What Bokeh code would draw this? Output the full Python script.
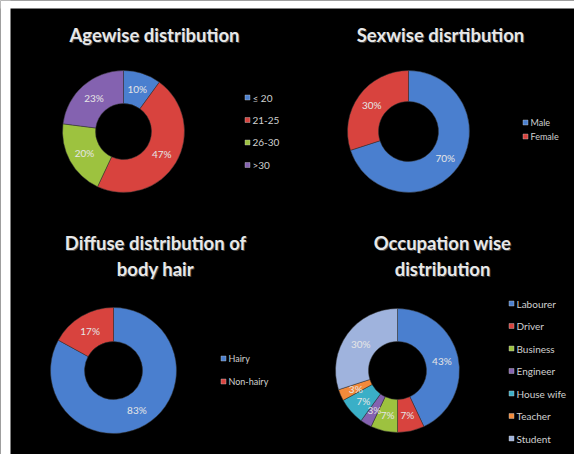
import math
from bokeh.plotting import figure
from bokeh.models import Range1d, BoxAnnotation
from bokeh.core.properties import value
from bokeh.embed import file_html
from bokeh.resources import INLINE

# ---------------- data ----------------
age_labels = ["\u2264 20", "21-25", "26-30", ">30"]
age_values = [10, 47, 20, 23]

sex_labels = ["Male", "Female"]
sex_values = [70, 30]

hair_labels = ["Hairy", "Non-hairy"]
hair_values = [83, 17]

occ_labels = ["Labourer", "Driver", "Business", "Engineer", "House wife", "Teacher", "Student"]
occ_values = [43, 7, 7, 3, 7, 3, 30]

# ---------------- style ----------------
BLUE = "#4A7FCF"
RED = "#D8433E"
GREEN = "#9DC23F"
PURPLE = "#8462B0"
AQUA = "#3AAFC7"
ORANGE = "#F28A3A"
PALE = "#9FB3DD"

W, H = 574, 454
TXT = "#E6E6E6"
FONT = "Lato"

p = figure(width=W, height=H, output_backend="svg", toolbar_location=None,
           x_range=Range1d(0, W), y_range=Range1d(0, H), min_border=0)
p.axis.visible = False
p.grid.visible = False
p.outline_line_color = None
p.background_fill_color = "black"
p.border_fill_color = "black"

# white frame strips (top and left) as in the source image
p.add_layout(BoxAnnotation(left=0, right=W, bottom=H - 8, top=H, fill_color="white",
                           fill_alpha=1, line_color=None))
p.add_layout(BoxAnnotation(left=0, right=10, bottom=0, top=H, fill_color="white",
                           fill_alpha=1, line_color=None))


def fx(x):
    return x


def fy(y):
    return H - y


def donut(cx, cy, r_in, r_out, labels, values, colors):
    total = float(sum(values))
    cum = 0.0
    starts, ends, mids = [], [], []
    for v in values:
        a0 = math.pi / 2 - 2 * math.pi * cum / total
        cum += v
        a1 = math.pi / 2 - 2 * math.pi * cum / total
        starts.append(a0)
        ends.append(a1)
        mids.append((a0 + a1) / 2)
    X, Y = fx(cx), fy(cy)
    p.annular_wedge(x=[X] * len(values), y=[Y] * len(values),
                    inner_radius=r_in, outer_radius=r_out,
                    start_angle=starts, end_angle=ends, direction="clock",
                    fill_color=colors, line_color="#333333", line_width=0.5)
    rm = (r_in + r_out) / 2
    lx = [X + rm * math.cos(m) for m in mids]
    ly = [Y + rm * math.sin(m) for m in mids]
    p.text(x=lx, y=ly, text=[f"{v}%" for v in values],
           text_font=value(FONT), text_font_size="10px",
           text_color=TXT, text_align="center", text_baseline="middle")


def legend(x, y0, dy, labels, colors, size="10px"):
    n = len(labels)
    xs = [fx(x)] * n
    ys = [fy(y0 + i * dy) for i in range(n)]
    p.rect(x=xs, y=ys, width=5, height=5, width_units="screen", height_units="screen",
           fill_color=colors, line_color="#cccccc", line_width=0.4)
    p.text(x=[fx(x) + 5] * n, y=ys, text=labels, text_font=value(FONT),
           text_font_size=size, text_color="#D0D0D0", text_baseline="middle")


def title(x, y, lines):
    for i, t in enumerate(lines):
        p.text(x=[fx(x) + 1], y=[fy(y + i * 26) - 1], text=[t], text_font=value(FONT),
               text_font_size="18.5px", text_font_style="bold", text_color="#444444",
               text_align="center", text_baseline="middle")
        p.text(x=[fx(x)], y=[fy(y + i * 26)], text=[t], text_font=value(FONT),
               text_font_size="18.5px", text_font_style="bold", text_color="#E8E8E8",
               text_align="center", text_baseline="middle")


# Chart 1
title(154, 34, ["Agewise distribution"])
donut(123, 131, 28, 61, age_labels, age_values, [BLUE, RED, GREEN, PURPLE])
legend(247, 97, 22.5, age_labels, [BLUE, RED, GREEN, PURPLE])

# Chart 2
title(440, 34, ["Sexwise disrtibution"])
donut(408, 131, 30, 61, sex_labels, sex_values, [BLUE, RED])
legend(525, 122, 14, sex_labels, [BLUE, RED], size="9px")

# Chart 3
title(155, 242, ["Diffuse distribution of", "body hair"])
donut(113, 370, 29, 63, hair_labels, hair_values, [BLUE, RED])
legend(223, 358, 23, hair_labels, [BLUE, RED], size="9px")

# Chart 4
title(442, 242, ["Occupation wise", "distribution"])
donut(397, 370, 29, 62, occ_labels, occ_values, [BLUE, RED, GREEN, PURPLE, AQUA, ORANGE, PALE])
legend(511, 303, 22.5, occ_labels, [BLUE, RED, GREEN, PURPLE, AQUA, ORANGE, PALE])

open("out.html", "w").write(file_html(p, INLINE))
